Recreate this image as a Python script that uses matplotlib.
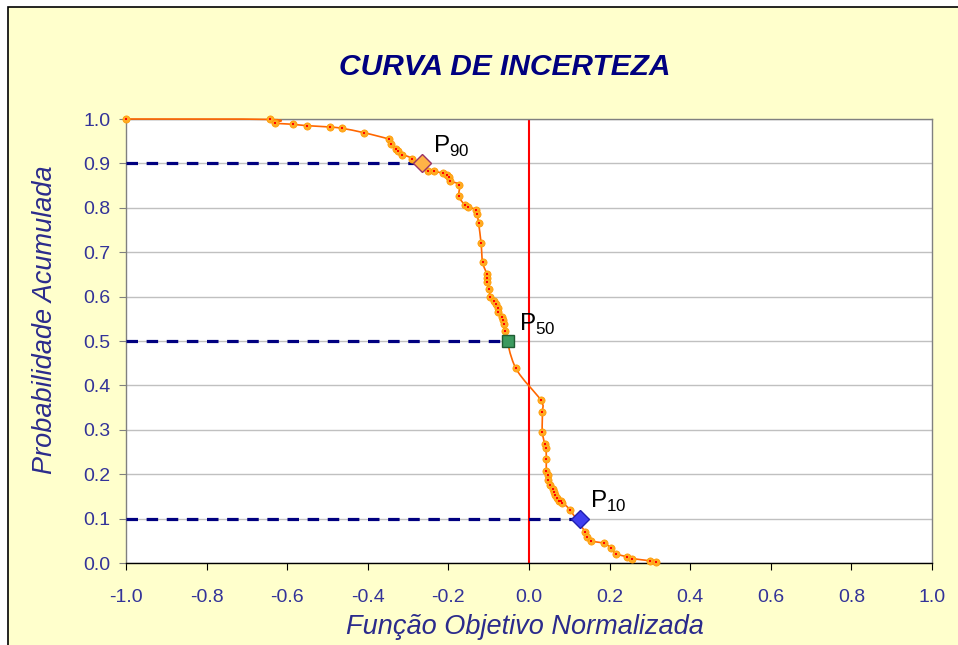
import numpy as np
import matplotlib
matplotlib.use("Agg")
import matplotlib.pyplot as plt
from matplotlib.path import Path
from matplotlib.patches import PathPatch, Rectangle

plt.rcParams['font.family'] = ['Liberation Sans', 'DejaVu Sans']
plt.rcParams['mathtext.fontset'] = 'custom'
plt.rcParams['mathtext.rm'] = 'Liberation Sans'

# cumulative curve
fo_norm = [-1.000, -0.643, -0.630, -0.586, -0.551, -0.494, -0.464, -0.409, -0.347, -0.342,
           -0.331, -0.324, -0.314, -0.290, -0.251, -0.236, -0.213, -0.204, -0.199, -0.197,
           -0.173, -0.174, -0.159, -0.152, -0.132, -0.129, -0.125, -0.119, -0.115, -0.104,
           -0.104, -0.104, -0.099, -0.096, -0.088, -0.083, -0.078, -0.076, -0.067, -0.064,
           -0.062, -0.060, -0.033, 0.029, 0.033, 0.033, 0.039, 0.042, 0.043, 0.043,
           0.046, 0.048, 0.052, 0.060, 0.062, 0.065, 0.069, 0.075, 0.080, 0.083,
           0.102, 0.140, 0.145, 0.153, 0.187, 0.204, 0.215, 0.243, 0.256, 0.300,
           0.314]
prob_acum = [1.000, 0.999, 0.991, 0.988, 0.985, 0.982, 0.979, 0.969, 0.954, 0.943,
             0.933, 0.928, 0.920, 0.911, 0.884, 0.882, 0.878, 0.875, 0.869, 0.860,
             0.852, 0.826, 0.806, 0.802, 0.796, 0.787, 0.765, 0.721, 0.677, 0.650,
             0.641, 0.633, 0.617, 0.599, 0.591, 0.583, 0.574, 0.565, 0.555, 0.547,
             0.538, 0.523, 0.439, 0.367, 0.340, 0.296, 0.268, 0.258, 0.234, 0.208,
             0.198, 0.187, 0.175, 0.167, 0.160, 0.154, 0.147, 0.140, 0.139, 0.136,
             0.119, 0.069, 0.059, 0.050, 0.044, 0.033, 0.021, 0.014, 0.010, 0.005,
             0.002]

# P90, P50, P10
p_names = ["90", "50", "10"]
p_x = [-0.265, -0.051, 0.126]
p_y = [0.9, 0.5, 0.1]

x_ticks = np.round(np.arange(-1.0, 1.01, 0.2), 1)
y_ticks = np.round(np.arange(0.0, 1.01, 0.1), 1)

TICK_COL = '#333399'
NAVY = '#000080'


def smooth_path(x, y):
    # Excel style smoothed line: Catmull-Rom segments as cubic Beziers
    pts = np.column_stack([x, y])
    n = len(pts)
    verts = [pts[0]]
    codes = [Path.MOVETO]
    for i in range(n - 1):
        p0 = pts[max(i - 1, 0)]
        p1 = pts[i]
        p2 = pts[i + 1]
        p3 = pts[min(i + 2, n - 1)]
        c1 = p1 + (p2 - p0) / 6.0
        c2 = p2 - (p3 - p1) / 6.0
        verts += [c1, c2, p2]
        codes += [Path.CURVE4] * 3
    return Path(verts, codes)


def fmt(v):
    return f"{abs(v):.1f}" if abs(v) < 1e-9 else f"{v:.1f}"


fig = plt.figure(figsize=(9.58, 6.45), dpi=100)
fig.patch.set_facecolor('white')
fig.patches.append(Rectangle((8 / 958, -0.05), 1.2, 1 - 7 / 645 + 0.05,
                             transform=fig.transFigure, facecolor='#FFFFCC',
                             edgecolor='black', linewidth=1.2, zorder=-10))

ax = fig.add_axes([126 / 958, 1 - 563 / 645, 806 / 958, 444 / 645])
ax.set_facecolor('white')
ax.set_xlim(-1, 1)
ax.set_ylim(0, 1)

ax.set_yticks(y_ticks)
ax.set_xticks(x_ticks)
ax.set_yticklabels([fmt(v) for v in y_ticks])
ax.set_xticklabels([fmt(v) for v in x_ticks])
ax.yaxis.grid(True, color='#C0C0C0', linewidth=1.0)
ax.set_axisbelow(True)

for s in ['left', 'right', 'top']:
    ax.spines[s].set_color('#808080')
    ax.spines[s].set_linewidth(1.0)
ax.spines['bottom'].set_color('black')
ax.spines['bottom'].set_linewidth(1.0)

ax.tick_params(axis='y', direction='out', length=5, color='#808080',
               labelcolor=TICK_COL, labelsize=14, pad=6)
ax.tick_params(axis='x', direction='out', length=5, color='black',
               labelcolor=TICK_COL, labelsize=14, pad=14)

# reference lines
ax.plot([0, 0], [0, 1], color='#FF0000', linewidth=1.5, zorder=2)
for px, py in zip(p_x, p_y):
    ax.plot([-1, px], [py, py], color=NAVY, linewidth=2.3,
            dashes=(3.6, 2.7), zorder=3)

# smoothed curve + markers
ax.add_patch(PathPatch(smooth_path(fo_norm, prob_acum), facecolor='none',
                       edgecolor='#FF6600', linewidth=1.2, zorder=4, clip_on=False))
ax.plot(fo_norm, prob_acum, linestyle='none', marker='o', markersize=5.2,
        markerfacecolor='#FFAA22', markeredgecolor='#FF9900',
        markeredgewidth=0.5, zorder=5, clip_on=False)
ax.plot(fo_norm, prob_acum, linestyle='none', marker='s', markersize=2.0,
        markerfacecolor='#FF0000', markeredgecolor='#FF0000',
        markeredgewidth=0, zorder=6, clip_on=False)

# percentile markers
ax.plot(p_x[0], p_y[0], marker='D', markersize=9.5, markerfacecolor='#FFB347',
        markeredgecolor='#993366', markeredgewidth=1.0, zorder=7)
ax.plot(p_x[1], p_y[1], marker='s', markersize=9, markerfacecolor='#3C9A5F',
        markeredgecolor='#1E5C32', markeredgewidth=1.0, zorder=7)
ax.plot(p_x[2], p_y[2], marker='D', markersize=9.5, markerfacecolor='#3F3FF0',
        markeredgecolor='#2020B0', markeredgewidth=1.0, zorder=7)

for name, px, py in zip(p_names, p_x, p_y):
    ax.text(px + 0.026, py + 0.01, "P$_{\\mathrm{" + name + "}}$", fontsize=17.5,
            color='black', ha='left', va='bottom', zorder=8)

fig.text(505 / 958, 1 - 67 / 645, "CURVA DE INCERTEZA", fontsize=21.5,
         fontweight='bold', fontstyle='italic', color=NAVY,
         ha='center', va='center')
fig.text(525 / 958, 1 - 627 / 645, "Função Objetivo Normalizada", fontsize=19.5,
         fontstyle='italic', color='#2B2B8C', ha='center', va='center')
fig.text(45 / 958, 1 - 320 / 645, "Probabilidade Acumulada", fontsize=19.5,
         fontstyle='italic', color='#2B2B8C', ha='center', va='center',
         rotation=90)

fig.savefig("out.png", dpi=100, facecolor=fig.get_facecolor())
